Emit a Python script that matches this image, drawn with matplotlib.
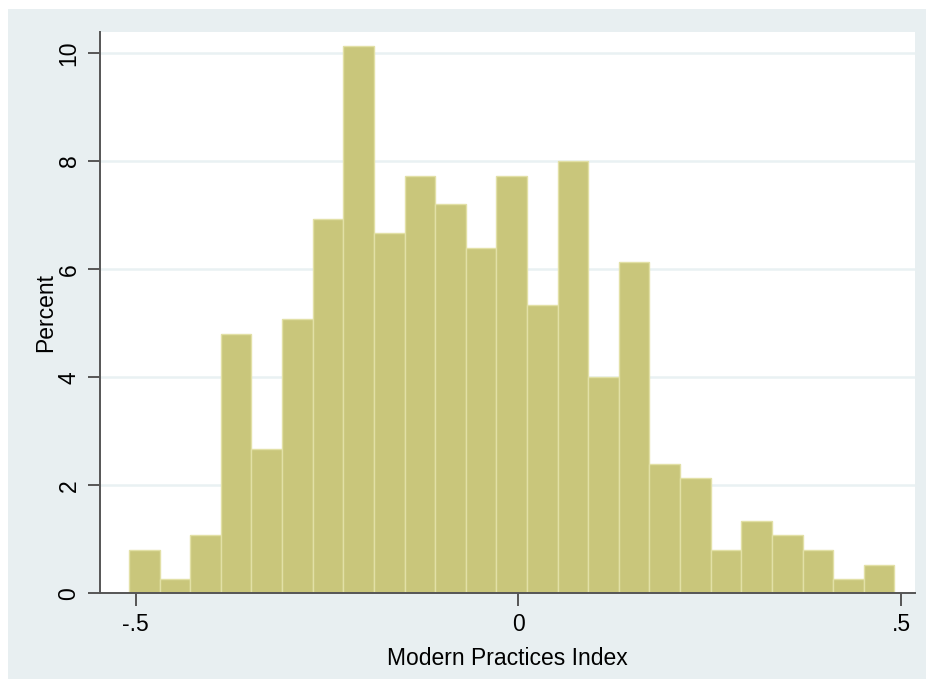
import matplotlib
matplotlib.use("Agg")
import matplotlib.pyplot as plt
import numpy as np
from matplotlib.patches import Rectangle

plt.rcParams["font.family"] = ["Liberation Sans", "DejaVu Sans"]

# Histogram: 25 bins of width .04
bin_start = -0.5087
bin_width = 0.04
percent = [0.80, 0.27, 1.07, 4.80, 2.67, 5.07, 6.93, 10.13, 6.67, 7.73,
           7.20, 6.40, 7.73, 5.33, 8.00, 4.00, 6.13, 2.40, 2.13, 0.80,
           1.33, 1.07, 0.80, 0.27, 0.53]
x_ticks = [-0.5, 0, 0.5]
x_ticklabels = ["-.5", "0", ".5"]
y_ticks = [0, 2, 4, 6, 8, 10]
x_label = "Modern Practices Index"
y_label = "Percent"

edges = bin_start + bin_width * np.arange(len(percent))

fig = plt.figure(figsize=(9.26, 6.8), dpi=100)
fig.patch.set_facecolor("white")
# Stata-like light bluish graph region, behind the axes
fig.add_artist(Rectangle((8 / 926, 1 - 679 / 680), 918 / 926, 670 / 680,
                         transform=fig.transFigure, facecolor="#e8eff1",
                         edgecolor="none", zorder=-5))

ax = fig.add_axes([100 / 926, 1 - 593.3 / 680, 815 / 926, 561.3 / 680])
ax.set_facecolor("white")

ax.bar(edges, percent, width=bin_width, align="edge", color="#c9c67b",
       edgecolor="#e2e0a6", linewidth=1.0, zorder=2)

ax.set_xlim(-0.5465, 0.5182)
ax.set_ylim(0, 10.39)
ax.set_xticks(x_ticks)
ax.set_xticklabels(x_ticklabels)
ax.set_yticks(y_ticks)
ax.set_yticklabels([str(v) for v in y_ticks], rotation=90, va="center")

ax.yaxis.grid(True, color="#e9f1f3", linewidth=1.8, zorder=0)
ax.set_axisbelow(True)

for side in ("top", "right"):
    ax.spines[side].set_visible(False)
for side in ("left", "bottom"):
    ax.spines[side].set_color("#555555")
    ax.spines[side].set_linewidth(1.4)

ax.tick_params(axis="both", length=9, width=1.4, color="#555555",
               labelsize=16.5, labelcolor="black", pad=5)

ax.set_xlabel(x_label, fontsize=16.5, labelpad=8)
ax.set_ylabel(y_label, fontsize=16.5, labelpad=0)

fig.savefig("out.png", dpi=100)
